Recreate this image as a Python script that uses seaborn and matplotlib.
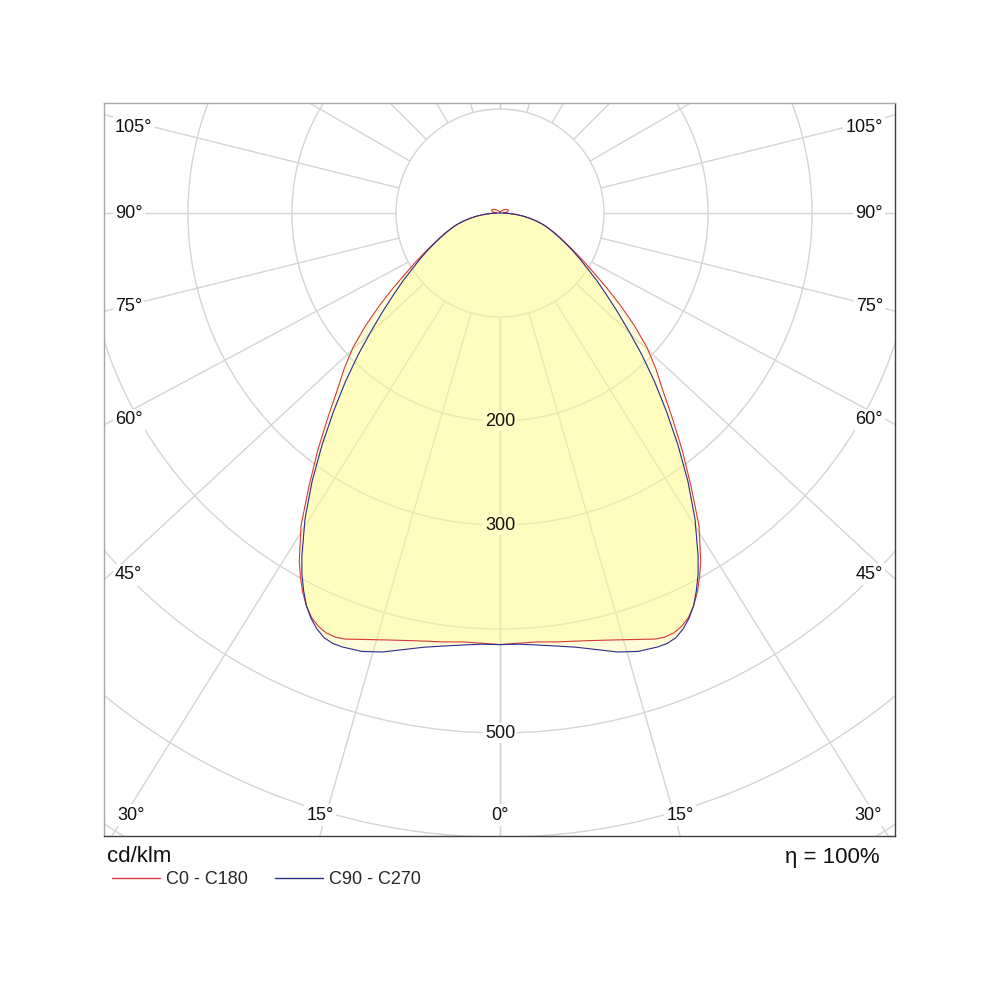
"""
Photometric polar diagram (light distribution curve) for a luminaire,
C0-C180 and C90-C270 planes, in cd/klm.
"""

import matplotlib
matplotlib.use("Agg")
import matplotlib.pyplot as plt
from matplotlib.lines import Line2D
from matplotlib.patches import Circle
import numpy as np
import pandas as pd
import seaborn as sns

# ── Data (cd/klm) ────────────────────────────────────────────────────────────
GAMMA = [0, 2.5, 5, 7.5, 10, 12.5, 15, 17.5, 20, 21.25, 22.5, 23.75, 25,
         26.25, 27.5, 28.75, 30, 32.5,
         35, 37.5, 40, 42.5, 45, 47.5, 50, 52.5, 55, 57.5, 60, 62.5, 65,
         67.5, 70, 72.5, 75, 77.5, 80, 82.5, 85, 87.5, 90,
         95, 100, 105, 110, 115, 120, 130, 140, 150, 165, 180]

C0_C180 = [415, 414, 414, 416, 418, 421, 425, 430, 436, 437.5, 437, 434, 429,
           421, 411, 399, 386, 356,
           320, 288, 258, 232, 212, 192, 169, 146, 125, 107, 93, 81, 71,
           63, 56, 49, 43, 36, 29, 22, 15, 8, 3,
           5, 7, 8, 8.5, 8, 7, 5, 3, 2, 1, 0]

C90_C270 = [415, 415, 417, 420, 424, 430, 437, 442, 444, 444, 442, 437, 430,
            421, 409, 396, 381, 349,
            315, 281, 249, 220, 193, 168, 147, 129, 114, 100, 89, 79, 70,
            62, 55, 49, 43, 36, 29, 22, 15, 8, 2,
            0, 0, 0, 0, 0, 0, 0, 0, 0, 0, 0]

SERIES = ["C0 - C180", "C90 - C270"]
RINGS = [100, 200, 300, 400, 500, 600, 700]
RING_LABELS = [200, 300, 500]
SPOKES = [0, 15, 30, 45, 60, 75, 90, 105, 120, 135, 150, 165, 180]
LABELLED_SPOKES = [0, 15, 30, 45, 60, 75, 90, 105]
UNIT = "cd/klm"
ETA = "η = 100%"

# ── Styling ──────────────────────────────────────────────────────────────────
sns.set_theme(style="white")
plt.rcParams["font.family"] = ["Liberation Sans", "DejaVu Sans"]

RED = "#D63A3A"
BLUE = "#2B2B8C"
FILL = "#FFFA8C"
GRID = "#D4D4D4"
PX = 1.04            # pixels per cd/klm
SQUEEZE = 733 / 791  # side spokes follow the frame's aspect, as in the source


def outline(values):
    """Closed polar outline: right half 0→180°, left half mirrored back."""
    g = np.radians(GAMMA)
    inten = np.asarray(values, dtype=float)
    x = np.concatenate([inten * np.sin(g), (-inten * np.sin(g))[::-1]])
    y = np.concatenate([-inten * np.cos(g), (-inten * np.cos(g))[::-1]])
    return x, y


def spoke_dir(gamma, side):
    k = SQUEEZE if gamma <= 105 else 1.0
    rad = np.radians(gamma)
    dx, dy = side * np.sin(rad), -k * np.cos(rad)
    n = np.hypot(dx, dy)
    return dx / n, dy / n


fig = plt.figure(figsize=(10, 10), dpi=100)
ax = fig.add_axes([0.104, 0.164, 0.791, 0.733])
x0, x1 = -396 / PX, 395 / PX
y0, y1 = -623 / PX, 110 / PX
ax.set_xlim(x0, x1)
ax.set_ylim(y0, y1)
ax.set_xticks([])
ax.set_yticks([])
for name, sp in ax.spines.items():
    sp.set_color("#A8A8A8" if name in ("left", "top") else "#404040")
    sp.set_linewidth(1.0)

# ── Grid: rings and spokes ───────────────────────────────────────────────────
for r in RINGS:
    ax.add_patch(Circle((0, 0), r, fill=False, color=GRID, lw=1.0, zorder=1))

for g in SPOKES:
    for side in (-1, 1):
        dx, dy = spoke_dir(g, side)
        ax.plot([100 * dx, 1200 * dx], [100 * dy, 1200 * dy],
                color=GRID, lw=1.0, zorder=1, solid_capstyle="butt")

# ── Angle labels along the frame ─────────────────────────────────────────────
for g in LABELLED_SPOKES:
    for side in ((-1, 1) if g else (1,)):
        dx, dy = spoke_dir(g, side)
        cands = []
        if dx < -1e-9:
            cands.append((x0 / dx, "left"))
        if dx > 1e-9:
            cands.append((x1 / dx, "right"))
        if dy < -1e-9:
            cands.append((y0 / dy, "bottom"))
        t, edge = min(cands)
        hx, hy = t * dx, t * dy
        if edge == "bottom":
            tx = min(max(hx, x0 + 27 / PX), x1 - 27 / PX)
            ty, ha = y0 + 21 / PX, "center"
        else:
            # nudge a little up, keep inside the frame
            ty = min(max(hy + 5 / PX, y0 + 21 / PX), y1 - 24 / PX)
            if g == 90:
                ty = 0
            if edge == "left":
                tx, ha = x0 + 11 / PX, "left"
            else:
                tx, ha = x1 - 12 / PX, "right"
        ax.text(tx, ty, f"{g}°", ha=ha, va="center", fontsize=13,
                color="#111111", zorder=5,
                bbox=dict(facecolor="white", edgecolor="none", pad=1.5))

# ── Curves ───────────────────────────────────────────────────────────────────
frames = []
for name, vals in zip(SERIES, [C0_C180, C90_C270]):
    x, y = outline(vals)
    ax.fill(x, y, color=FILL, alpha=0.33, lw=0, zorder=2)
    frames.append(pd.DataFrame({"x": x, "y": y, "series": name}))
curves = pd.concat(frames, ignore_index=True)

sns.lineplot(data=curves, x="x", y="y", hue="series", units="series",
             estimator=None, sort=False, palette=[RED, BLUE],
             linewidth=0.8, legend=False, ax=ax, zorder=3)
ax.set_xlabel("")
ax.set_ylabel("")

# ── Ring labels ──────────────────────────────────────────────────────────────
for r in RING_LABELS:
    inside = r < 400
    ax.text(0, -r, str(r), ha="center", va="center", fontsize=13,
            color="#111111", zorder=5,
            bbox=dict(facecolor="#FFFCC4" if inside else "white",
                      edgecolor="none", pad=1.0))

# ── Footer: unit, efficiency, legend ─────────────────────────────────────────
fig.text(0.107, 0.143, UNIT, ha="left", va="center", fontsize=16, color="#111111")
fig.text(0.880, 0.143, ETA, ha="right", va="center", fontsize=16, color="#111111")

handles = [Line2D([], [], color=RED, lw=1.0), Line2D([], [], color=BLUE, lw=1.0)]
fig.legend(handles, SERIES, loc="center left", bbox_to_anchor=(0.112, 0.12),
           ncol=2, frameon=False, fontsize=13, handlelength=2.66,
           handletextpad=0.33, columnspacing=1.5, borderpad=0, borderaxespad=0)

fig.savefig("out.png", dpi=100, facecolor="white")
plt.close(fig)
